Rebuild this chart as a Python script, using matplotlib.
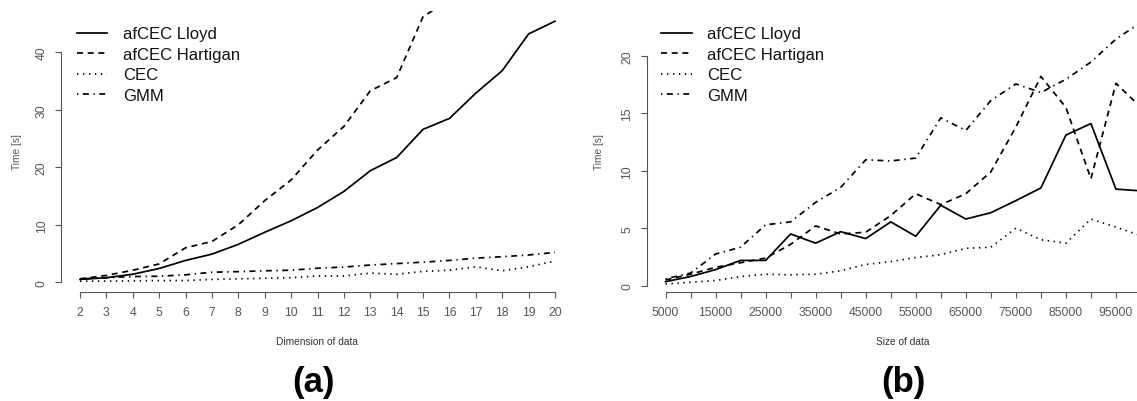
import matplotlib
matplotlib.use("Agg")
import matplotlib.pyplot as plt

plt.rcParams['font.family'] = ['Liberation Sans', 'DejaVu Sans']
plt.rcParams['lines.scale_dashes'] = False

# ---------------- data ----------------
dims = list(range(2, 21))
lloyd_a = [0.5, 0.8, 1.4, 2.4, 3.8, 4.9, 6.6, 8.7, 10.7, 13.0, 15.8, 19.4, 21.7, 26.6, 28.5, 32.9, 36.8, 43.2, 45.4]
hartigan_a = [0.6, 1.2, 2.1, 3.2, 6.0, 7.1, 10.0, 14.2, 17.8, 23.0, 27.1, 33.3, 35.6, 46.2, 49.1, 55.0, 61.0, 68.0, 76.0]
cec_a = [0.2, 0.2, 0.25, 0.3, 0.3, 0.5, 0.6, 0.7, 0.8, 1.1, 1.1, 1.6, 1.4, 1.9, 2.1, 2.7, 2.0, 2.7, 3.7]
gmm_a = [0.6, 0.8, 1.0, 1.05, 1.3, 1.75, 1.85, 2.0, 2.1, 2.45, 2.65, 3.0, 3.25, 3.5, 3.8, 4.2, 4.45, 4.75, 5.2]

sizes = [5000, 10000, 15000, 20000, 25000, 30000, 35000, 40000, 45000, 50000,
         55000, 60000, 65000, 70000, 75000, 80000, 85000, 90000, 95000, 100000]
lloyd_b = [0.35, 0.8, 1.4, 2.2, 2.2, 4.5, 3.7, 4.7, 4.1, 5.55, 4.3, 7.0, 5.8, 6.35, 7.4, 8.5, 13.1, 14.1, 8.4, 8.25]
hartigan_b = [0.5, 1.0, 1.6, 2.0, 2.4, 3.6, 5.2, 4.5, 4.65, 6.1, 8.0, 7.05, 8.0, 9.9, 13.8, 18.2, 15.5, 9.3, 17.6, 15.5]
cec_b = [0.15, 0.3, 0.45, 0.8, 1.0, 0.95, 1.0, 1.3, 1.85, 2.1, 2.45, 2.7, 3.25, 3.35, 5.0, 4.0, 3.7, 5.8, 5.1, 4.35]
gmm_b = [0.6, 1.1, 2.75, 3.35, 5.3, 5.55, 7.25, 8.55, 10.95, 10.85, 11.1, 14.6, 13.5, 16.1, 17.55, 16.8, 17.95, 19.45, 21.45, 22.9]

series_names = ["afCEC Lloyd", "afCEC Hartigan", "CEC", "GMM"]
yticks_a = [0, 10, 20, 30, 40]
yticks_b = [0, 5, 10, 15, 20]
xtick_labels_a = [str(d) for d in dims]
xtick_labels_b = ["5000", "", "15000", "", "25000", "", "35000", "", "45000", "",
                  "55000", "", "65000", "", "75000", "", "85000", "", "95000", ""]

# ---------------- styling ----------------
W, H = 1137, 402
GRAY = '#555555'
styles = ['-', (0, (4.3, 3.4)), (0, (1.0, 3.3)), (0, (1.0, 3.2, 4.3, 3.3))]
LW = 1.25

fig = plt.figure(figsize=(W / 100, H / 100), dpi=100)


def px_axes(left, right, top, bottom):
    return fig.add_axes([left / W, 1 - bottom / H, (right - left) / W, (bottom - top) / H])


def style_axes(ax, xt, xl, yt, xbounds, ybounds):
    for s in ['top', 'right']:
        ax.spines[s].set_visible(False)
    for s in ['left', 'bottom']:
        ax.spines[s].set_color(GRAY)
        ax.spines[s].set_linewidth(0.8)
    ax.spines['bottom'].set_bounds(*xbounds)
    ax.spines['left'].set_bounds(*ybounds)
    ax.set_xticks(xt)
    ax.set_xticklabels(xl)
    ax.set_yticks(yt)
    ax.set_yticklabels([str(v) for v in yt])
    ax.tick_params(axis='both', direction='out', length=4.3, width=0.8,
                   color=GRAY, labelcolor=GRAY, labelsize=8.8)
    ax.tick_params(axis='x', pad=10.1)
    ax.tick_params(axis='y', pad=9.6, labelrotation=90)
    for lbl in ax.get_xticklabels():
        lbl.set_va('center')
    for lbl in ax.get_yticklabels():
        lbl.set_ha('center')
        lbl.set_va('center')


# ---------------- panel (a) ----------------
axa = px_axes(61, 574, 12, 293.3)
for vals, ls, name in zip([lloyd_a, hartigan_a, cec_a, gmm_a], styles, series_names):
    axa.plot(dims, vals, color='black', linestyle=ls, linewidth=LW, label=name)
axa.set_xlim(1.28, 20.72)
axa.set_ylim(-1.74, 47.18)
style_axes(axa, dims, xtick_labels_a, yticks_a, (2, 20), (0, 40))

# ---------------- panel (b) ----------------
axb = px_axes(646.5, 1160, 12, 292.7)
for vals, ls, name in zip([lloyd_b, hartigan_b, cec_b, gmm_b], styles, series_names):
    axb.plot(sizes, vals, color='black', linestyle=ls, linewidth=LW, label=name)
axb.set_xlim(1200, 103800)
axb.set_ylim(-0.52, 23.89)
style_axes(axb, sizes, xtick_labels_b, yticks_b, (5000, 100000), (0, 20))

# ---------------- legends ----------------
for ax, lx in [(axa, 76.7), (axb, 661)]:
    ax.legend(loc='upper left', bbox_to_anchor=(lx / W, 1 - 27.5 / H),
              bbox_transform=fig.transFigure, frameon=False, fontsize=12,
              borderpad=0, borderaxespad=0, handlelength=1.84,
              handletextpad=0.92, labelspacing=0.33, labelcolor='#111111')

# ---------------- labels ----------------
fig.text(16.7 / W, 1 - 152 / H, "Time [s]", rotation=90, ha='center', va='center',
         fontsize=7.3, color=GRAY)
fig.text(599 / W, 1 - 152 / H, "Time [s]", rotation=90, ha='center', va='center',
         fontsize=7.3, color=GRAY)
fig.text(317.5 / W, 1 - 341.7 / H, "Dimension of data", ha='center', va='center',
         fontsize=7.3, color='#333333')
fig.text(903 / W, 1 - 341.7 / H, "Size of data", ha='center', va='center',
         fontsize=7.3, color='#333333')
fig.text(313 / W, 1 - 382.5 / H, "(a)", ha='center', va='center',
         fontsize=25, fontweight='bold', color='black')
fig.text(903 / W, 1 - 382.5 / H, "(b)", ha='center', va='center',
         fontsize=25, fontweight='bold', color='black')

fig.savefig("out.png", dpi=100)
